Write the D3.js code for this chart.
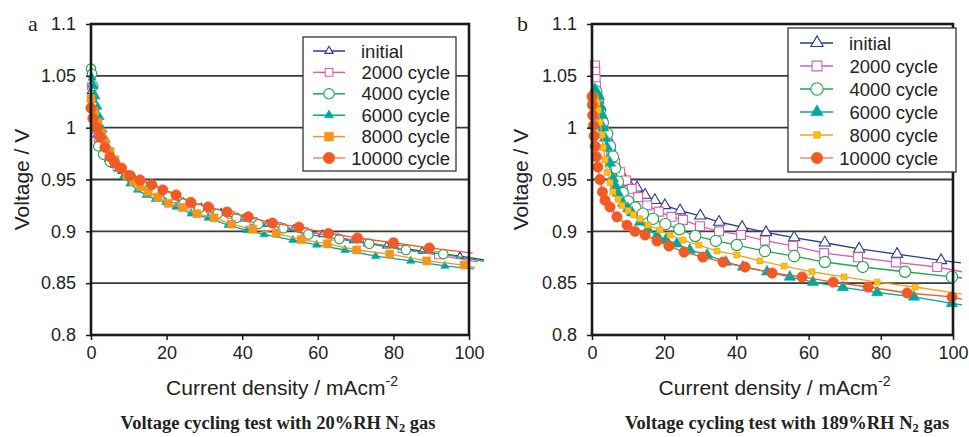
<!DOCTYPE html>
<html>
<head>
<meta charset="utf-8">
<script src="https://cdn.jsdelivr.net/npm/d3@7"></script>
<style>
  body { margin: 0; background: #fff; }
  svg { display: block; }
</style>
</head>
<body>
<svg id="chart" width="969" height="437"></svg>
<script>
// ---- data ----
var seriesNames = ["initial", "2000 cycle", "4000 cycle", "6000 cycle", "8000 cycle", "10000 cycle"];
var xTicks = [0, 20, 40, 60, 80, 100];
var yTicks = [0.8, 0.85, 0.9, 0.95, 1, 1.05, 1.1];

// panel a : 20%RH
var aInitialX = [0, 0.4, 0.9, 1.5, 2.3, 3.3, 4.6, 6.2, 8.2, 10.6, 13.4, 16.6, 20.3, 24.5, 29.2, 34.4, 40.2, 46.6, 53.6, 61.2, 69.4, 78.2, 87.6, 97.6, 104];
var aInitialY = [1.035, 1.02, 1.005, 0.993, 0.984, 0.977, 0.97, 0.964, 0.958, 0.952, 0.946, 0.94, 0.934, 0.928, 0.923, 0.918, 0.912, 0.907, 0.902, 0.897, 0.891, 0.886, 0.881, 0.876, 0.8725];
var a2000X = [0, 0.3, 0.7, 1.2, 1.8, 2.6, 3.6, 5, 6.8, 9, 11.5, 14.5, 18, 22, 26.5, 31.5, 37, 43, 49.5, 56.5, 64.5, 73, 82.2, 91.8, 102.4];
var a2000Y = [1.04, 1.025, 1.01, 0.998, 0.99, 0.982, 0.975, 0.968, 0.962, 0.955, 0.949, 0.943, 0.937, 0.931, 0.926, 0.921, 0.916, 0.91, 0.905, 0.9, 0.895, 0.889, 0.883, 0.877, 0.8705];
var a4000X = [0, 0.3, 0.6, 1.0, 1.4, 1.9, 3.2, 5, 7.7, 10.5, 13.5, 16.8, 20.5, 24.5, 28.6, 33.5, 38.5, 44.3, 50.9, 57.5, 65.7, 73.6, 83.3, 93.2, 104];
var a4000Y = [1.057, 1.052, 1.04, 1.02, 1.0, 0.982, 0.974, 0.967, 0.961, 0.953, 0.946, 0.94, 0.934, 0.927, 0.922, 0.917, 0.913, 0.907, 0.903, 0.897, 0.8925, 0.888, 0.882, 0.878, 0.871];
var a6000X = [0.3, 0.8, 1.3, 1.8, 2.4, 3.2, 4, 5, 6, 7.2, 8.6, 10.3, 12.3, 14.6, 17, 19.8, 22.5, 26.5, 31, 36.3, 41.2, 45.8, 53.4, 59.7, 67.2, 75.3, 84.6, 93.6, 101.3];
var a6000Y = [1.048, 1.04, 1.03, 1.02, 1.01, 0.998, 0.988, 0.978, 0.968, 0.96, 0.953, 0.946, 0.94, 0.935, 0.931, 0.928, 0.9235, 0.917, 0.913, 0.906, 0.901, 0.897, 0.8916, 0.887, 0.882, 0.876, 0.8715, 0.8666, 0.8637];
var a8000X = [0, 0.8, 1.8, 2.8, 3.7, 5, 6.3, 7.8, 9.5, 11.2, 13, 15.1, 17.7, 20.5, 24.2, 28, 32.6, 37.2, 42.8, 49, 55.6, 62.5, 70.3, 79, 88.8, 98.7, 101.6];
var a8000Y = [1.028, 1.016, 1.005, 0.995, 0.986, 0.977, 0.969, 0.961, 0.954, 0.948, 0.943, 0.938, 0.933, 0.927, 0.923, 0.917, 0.913, 0.907, 0.902, 0.898, 0.892, 0.888, 0.882, 0.878, 0.8715, 0.8675, 0.865];
var a10000X = [0, 0.5, 1.6, 2.4, 3.7, 5, 6.3, 8.1, 10.3, 13, 16.1, 19, 22.5, 26.4, 31, 36, 41.6, 48, 55, 62.8, 70.5, 80, 89.5, 101];
var a10000Y = [1.019, 1.009, 1.0, 0.991, 0.981, 0.972, 0.966, 0.961, 0.954, 0.9495, 0.945, 0.94, 0.935, 0.928, 0.9235, 0.9186, 0.914, 0.908, 0.904, 0.898, 0.8936, 0.889, 0.884, 0.879];

// panel b : 189%RH
var bInitialX = [1.2, 1.7, 2.2, 3, 3.6, 4.2, 5, 5.5, 6.3, 7.2, 8.5, 10, 12.5, 14.7, 17.4, 20.2, 24.4, 30, 35.2, 41.6, 48.2, 56, 64.5, 74, 84.5, 96.7, 102.2];
var bInitialY = [1.035, 1.027, 1.015, 1.003, 0.997, 0.991, 0.981, 0.972, 0.965, 0.959, 0.953, 0.947, 0.942, 0.935, 0.93, 0.925, 0.92, 0.915, 0.909, 0.904, 0.899, 0.894, 0.889, 0.883, 0.878, 0.872, 0.8695];
var b2000X = [0.8, 0.9, 1.0, 1.1, 1.3, 1.8, 2.5, 3.3, 4.2, 5.2, 6.4, 7.8, 9.4, 11, 12.8, 15.3, 18.5, 22, 25.2, 29.9, 35.2, 41.3, 47.9, 55.7, 64.3, 73.7, 84.2, 95.6, 102.5];
var b2000Y = [1.06, 1.054, 1.047, 1.04, 1.032, 1.02, 1.008, 0.996, 0.985, 0.975, 0.966, 0.957, 0.949, 0.941, 0.933, 0.925, 0.919, 0.914, 0.911, 0.905, 0.9, 0.8965, 0.891, 0.886, 0.879, 0.875, 0.87, 0.8656, 0.861];
var b4000X = [1.2, 1.6, 2.2, 3, 4.2, 5, 5.8, 6.4, 7.2, 8.5, 10, 12, 14.1, 16.9, 20.3, 24.2, 28.6, 34.3, 40.1, 47.9, 56, 64.5, 75, 86.7, 99.7, 102.5];
var b4000Y = [1.035, 1.028, 1.017, 1.005, 0.994, 0.982, 0.972, 0.961, 0.948, 0.937, 0.929, 0.923, 0.917, 0.912, 0.907, 0.902, 0.8955, 0.8907, 0.8868, 0.881, 0.876, 0.8704, 0.8656, 0.861, 0.856, 0.855];
var b6000X = [0.8, 1.3, 1.9, 2.4, 2.8, 3.1, 3.6, 4.2, 5, 5.8, 6.5, 7.2, 8.6, 10, 11.1, 13.3, 15.5, 18, 20.5, 23.5, 27.1, 31.9, 37.1, 41.8, 48.5, 54.8, 61.2, 69.5, 79, 89.2, 99.7, 102.5];
var b6000Y = [1.037, 1.034, 1.03, 1.02, 1.012, 1.0, 0.99, 0.981, 0.966, 0.951, 0.944, 0.937, 0.927, 0.922, 0.918, 0.909, 0.902, 0.896, 0.892, 0.888, 0.882, 0.8772, 0.8704, 0.8656, 0.861, 0.856, 0.851, 0.8459, 0.841, 0.8367, 0.8305, 0.829];
var b8000X = [0.6, 1.0, 1.4, 1.7, 2.2, 2.8, 3.1, 3.6, 4.2, 5, 5.8, 7.2, 8.3, 10, 11.5, 13.3, 15.5, 18.8, 21.6, 25.2, 29.6, 34.6, 40.1, 46.5, 53.2, 60.9, 69.8, 79, 89.5, 102.5];
var b8000Y = [1.03, 1.028, 1.024, 1.017, 1.005, 0.993, 0.981, 0.969, 0.957, 0.947, 0.938, 0.931, 0.925, 0.92, 0.916, 0.912, 0.906, 0.9013, 0.8965, 0.8916, 0.8868, 0.881, 0.8772, 0.8714, 0.8665, 0.861, 0.856, 0.851, 0.8463, 0.8395];
var b10000X = [0, 0.1, 0.2, 0.4, 0.6, 0.9, 1.2, 1.6, 2.2, 2.9, 3.6, 5, 6.9, 9.7, 11.9, 14.7, 18, 21.3, 25.5, 30.7, 36.3, 42.4, 49.9, 58.2, 66.8, 76.5, 87.3, 99.7, 102.5];
var b10000Y = [1.03, 1.022, 1.012, 1.002, 0.992, 0.982, 0.972, 0.962, 0.95, 0.938, 0.93, 0.9235, 0.914, 0.906, 0.9, 0.8965, 0.8907, 0.8859, 0.88, 0.8752, 0.8704, 0.8656, 0.8598, 0.856, 0.851, 0.8463, 0.8405, 0.8367, 0.8347];

// ---- styles ----
var symbols = [d3.symbolTriangle, d3.symbolSquare, d3.symbolCircle, d3.symbolTriangle, d3.symbolSquare, d3.symbolCircle];
var lineColors = ["#2b3990", "#d660b0", "#1ea84a", "#00a99d", "#f7941d", "#f15a24"];
var filledMarker = [false, false, false, true, true, true];

var svg = d3.select("#chart");
var sans = "Liberation Sans, Arial, sans-serif";
var serif = "Liberation Serif, Times New Roman, serif";

var panels = [
    {
        left: 91, right: 469, letter: "a", letterX: 28,
        xs: [aInitialX, a2000X, a4000X, a6000X, a8000X, a10000X],
        ys: [aInitialY, a2000Y, a4000Y, a6000Y, a8000Y, a10000Y],
        sizes: [24, 49, 70, 30, 64, 85],
        fills: [null, null, null, "#00a99d", "#f7941d", "#f15a24"],
        legend: { x: 303, y: 37, w: 153, h: 134, row0: 51, dy: 21.4, lx1: 313, lx2: 345, mx: 329, tx: 361, tend: 450 },
        ylabX: 29, caption: "20%RH"
    },
    {
        left: 592, right: 953, letter: "b", letterX: 517,
        xs: [bInitialX, b2000X, b4000X, b6000X, b8000X, b10000X],
        ys: [bInitialY, b2000Y, b4000Y, b6000Y, b8000Y, b10000Y],
        sizes: [55, 80, 100, 55, 36, 85],
        fills: [null, null, null, "#00a99d", "#ffc20e", "#f15a24"],
        legend: { x: 788, y: 28, w: 168, h: 144, row0: 43, dy: 23, lx1: 800, lx2: 833, mx: 817, tx: 849, tend: 938 },
        ylabX: 528, caption: "189%RH"
    }
];

var top_ = 24, bottom_ = 335;

panels.forEach(function(p) {
    var x = d3.scaleLinear().domain([0, 100]).range([p.left, p.right]);
    var y = d3.scaleLinear().domain([0.8, 1.1]).range([bottom_, top_]);
    var g = svg.append("g");

    // gridlines
    g.selectAll(".grid")
        .data(yTicks.slice(1, -1))
        .enter().append("line")
        .attr("class", "grid")
        .attr("x1", p.left).attr("x2", p.right)
        .attr("y1", d => y(d)).attr("y2", d => y(d))
        .attr("stroke", "#3a3a3a")
        .attr("stroke-width", 1.8);

    // series
    var line = d3.line().x(d => x(d[0])).y(d => y(d[1]));
    p.xs.forEach(function(xv, i) {
        var pts = xv.map((v, j) => [v, p.ys[i][j]]);
        var sg = g.append("g");
        sg.append("path")
            .datum(pts)
            .attr("d", line)
            .attr("fill", "none")
            .attr("stroke", i == 4 && p.letter == "b" ? "#f9a01b" : lineColors[i])
            .attr("stroke-width", 1.3);
        sg.selectAll("path.m")
            .data(pts.filter(d => d[0] <= 100))
            .enter().append("path")
            .attr("class", "m")
            .attr("d", d3.symbol().type(symbols[i]).size(p.sizes[i]))
            .attr("transform", d => "translate(" + x(d[0]) + "," + y(d[1]) + ")")
            .attr("fill", filledMarker[i] ? p.fills[i] : "#fff")
            .attr("stroke", lineColors[i])
            .attr("stroke-width", filledMarker[i] ? 0.6 : 1.1);
    });

    // frame
    g.append("rect")
        .attr("x", p.left).attr("y", top_)
        .attr("width", p.right - p.left).attr("height", bottom_ - top_)
        .attr("fill", "none")
        .attr("stroke", "#1a1a1a")
        .attr("stroke-width", 2.6);

    // axes
    var xAxis = g.append("g")
        .attr("transform", "translate(0," + bottom_ + ")")
        .call(d3.axisBottom(x).tickValues(xTicks).tickSize(5).tickPadding(6).tickFormat(d => String(d)));
    var yAxis = g.append("g")
        .attr("transform", "translate(" + p.left + ",0)")
        .call(d3.axisLeft(y).tickValues(yTicks).tickSize(5).tickPadding(10).tickFormat(d => String(d)));
    [xAxis, yAxis].forEach(function(a) {
        a.select(".domain").remove();
        a.selectAll("line").attr("stroke", "#1a1a1a").attr("stroke-width", 1.5);
        a.selectAll("text").attr("font-family", sans).attr("font-size", 18).attr("fill", "#222");
    });

    // axis titles
    var xt = g.append("text")
        .attr("x", (p.left + p.right) / 2 + 2)
        .attr("y", 395)
        .attr("text-anchor", "middle")
        .attr("font-family", sans)
        .attr("font-size", 21)
        .attr("fill", "#222");
    xt.append("tspan").text("Current density / mAcm");
    xt.append("tspan").attr("font-size", 14).attr("dy", -9).text("-2");

    g.append("text")
        .attr("transform", "translate(" + p.ylabX + "," + ((top_ + bottom_) / 2) + ") rotate(-90)")
        .attr("text-anchor", "middle")
        .attr("font-family", sans)
        .attr("font-size", 21)
        .attr("fill", "#222")
        .text("Voltage / V");

    // panel letter
    g.append("text")
        .attr("x", p.letterX).attr("y", 31)
        .attr("font-family", serif)
        .attr("font-size", 22)
        .attr("fill", "#222")
        .text(p.letter);

    // caption
    var cap = g.append("text")
        .attr("x", p.letter == "a" ? 278 : 787)
        .attr("y", 429)
        .attr("text-anchor", "middle")
        .attr("font-family", serif)
        .attr("font-weight", "bold")
        .attr("font-size", 18.5)
        .attr("fill", "#222");
    cap.append("tspan").text("Voltage cycling test with " + p.caption + " N");
    cap.append("tspan").attr("font-size", 12.5).attr("dy", 3).text("2");
    cap.append("tspan").attr("dy", -3).text(" gas");

    // legend
    var L = p.legend;
    var lg = g.append("g");
    lg.append("rect")
        .attr("x", L.x).attr("y", L.y).attr("width", L.w).attr("height", L.h)
        .attr("fill", "#fff")
        .attr("stroke", "#333")
        .attr("stroke-width", 1.3);
    seriesNames.forEach(function(name, i) {
        var ry = L.row0 + i * L.dy;
        lg.append("line")
            .attr("x1", L.lx1).attr("x2", L.lx2)
            .attr("y1", ry).attr("y2", ry)
            .attr("stroke", i == 5 ? "#f4876a" : (i == 4 && p.letter == "b" ? "#f9a01b" : lineColors[i]))
            .attr("stroke-width", 1.5);
        lg.append("path")
            .attr("d", d3.symbol().type(symbols[i]).size(p.sizes[i] * 1.2))
            .attr("transform", "translate(" + L.mx + "," + ry + ")")
            .attr("fill", filledMarker[i] ? p.fills[i] : "#fff")
            .attr("stroke", lineColors[i])
            .attr("stroke-width", filledMarker[i] ? 0.6 : 1.1);
        lg.append("text")
            .attr("x", i == 0 ? L.tx : L.tend)
            .attr("y", ry)
            .attr("dy", "0.36em")
            .attr("text-anchor", i == 0 ? "start" : "end")
            .attr("font-family", sans)
            .attr("font-size", 18.5)
            .attr("fill", "#222")
            .text(name);
    });
});
</script>
</body>
</html>
